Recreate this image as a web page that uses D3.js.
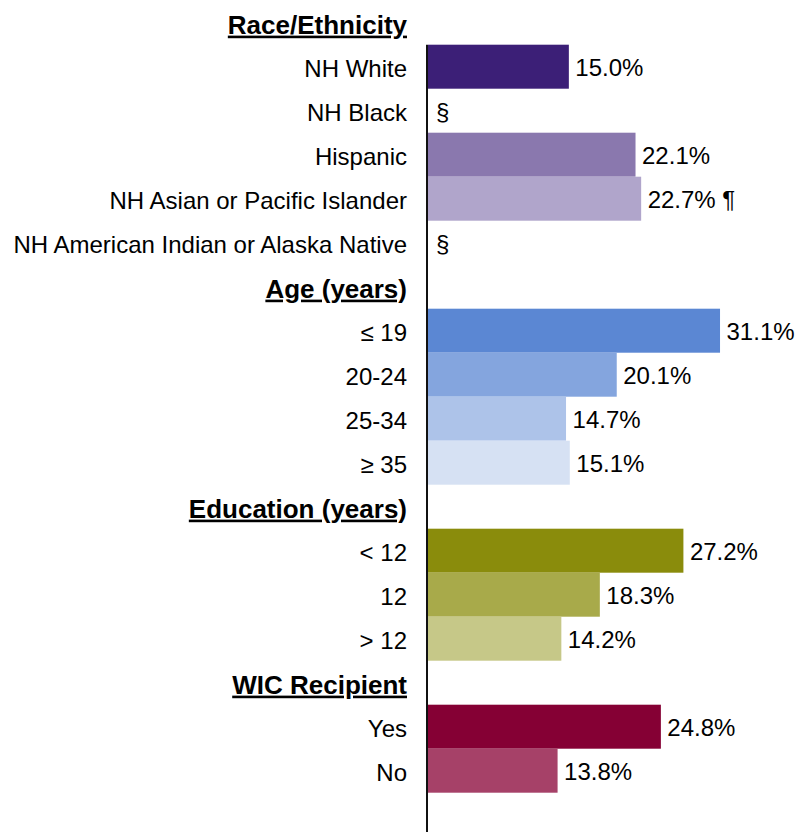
<!DOCTYPE html>
<html>
<head>
<meta charset="utf-8">
<script src="https://cdn.jsdelivr.net/npm/d3@7"></script>
<style>
body { margin: 0; background: #fff; }
text { font-family: Arial, "Liberation Sans", sans-serif; font-size: 24px; fill: #000; }
</style>
</head>
<body>
<div id="chart"></div>
<script>
// ----------------------------------------------------------
// DATA -----------------------------------------------------
// ----------------------------------------------------------
var row_labels = ["Race/Ethnicity", "NH White", "NH Black", "Hispanic", "NH Asian or Pacific Islander",
  "NH American Indian or Alaska Native", "Age (years)", "\u2264 19", "20-24", "25-34", "\u2265 35",
  "Education (years)", "< 12", "12", "> 12", "WIC Recipient", "Yes", "No", ""];
var row_is_header = [1, 0, 0, 0, 0, 0, 1, 0, 0, 0, 0, 1, 0, 0, 0, 1, 0, 0, 0];
var row_values = [null, 15.0, null, 22.1, 22.7, null, null, 31.1, 20.1, 14.7, 15.1, null, 27.2, 18.3, 14.2, null, 24.8, 13.8, null];
var row_notes = ["", "", "\u00a7", "", " \u00b6", "\u00a7", "", "", "", "", "", "", "", "", "", "", "", "", ""];
var row_colors = [null, "#3c1f77", null, "#8a78ae", "#b0a5cb", null, null, "#5b87d3", "#84a5de", "#adc3e9", "#d6e1f3",
  null, "#8a8c0c", "#a8aa4a", "#c6c888", null, "#850034", "#a64168", null];

// ----------------------------------------------------------
// STRUCTURE ------------------------------------------------
// ----------------------------------------------------------
var width = 797, height = 832;
var axis_x = 428;

var svg = d3.select("#chart").append("svg")
  .attr("width", width)
  .attr("height", height);

var rows = row_labels.map(function(d, i) {
  return { id: i, label: d, header: row_is_header[i], value: row_values[i], note: row_notes[i], color: row_colors[i] };
});

var yScale = d3.scaleBand()
  .domain(rows.map(function(d) { return d.id; }))
  .range([0.7, 0.7 + 44 * rows.length])
  .padding(0);

var xScale = d3.scaleLinear()
  .domain([0, 35])
  .range([axis_x, axis_x + 35 * 9.39]);

// ----------------------------------------------------------
// BARS -----------------------------------------------------
// ----------------------------------------------------------
var bars = rows.filter(function(d) { return d.value != null; });

svg.append("g").selectAll("rect")
  .data(bars)
  .enter()
  .append("rect")
  .attr("x", xScale(0))
  .attr("y", function(d) { return yScale(d.id); })
  .attr("width", function(d) { return xScale(d.value) - xScale(0); })
  .attr("height", yScale.bandwidth())
  .style("fill", function(d) { return d.color; });

// value labels
svg.append("g").selectAll("text")
  .data(rows.filter(function(d) { return d.value != null || d.note; }))
  .enter()
  .append("text")
  .attr("x", function(d) { return d.value != null ? xScale(d.value) + 6.5 : axis_x + 8; })
  .attr("y", function(d) { return yScale(d.id) + yScale.bandwidth() / 2 + 1; })
  .attr("dy", "0.36em")
  .text(function(d) { return d.value != null ? d.value.toFixed(1) + "%" + d.note : d.note; });

// ----------------------------------------------------------
// AXIS -----------------------------------------------------
// ----------------------------------------------------------
var yAxis = svg.append("g")
  .attr("transform", "translate(" + (axis_x - 1) + ",0)")
  .call(d3.axisLeft(yScale)
    .tickSize(0)
    .tickPadding(20)
    .tickFormat(function(i) { return rows[i].label; }));

yAxis.select(".domain")
  .attr("d", "M0," + yScale(1) + "V" + (yScale(rows.length - 1) + yScale.bandwidth()))
  .attr("stroke", "#111")
  .attr("stroke-width", 2);

yAxis.selectAll(".tick text")
  .attr("font-family", null)
  .attr("font-size", null)
  .attr("fill", "#000")
  .attr("dy", "0.42em")
  .style("font-size", function(i) { return rows[i].header ? "26px" : "24px"; })
  .style("font-weight", function(i) { return rows[i].header ? "bold" : "normal"; })
  .style("text-decoration", function(i) { return rows[i].header ? "underline" : "none"; });
</script>
</body>
</html>
